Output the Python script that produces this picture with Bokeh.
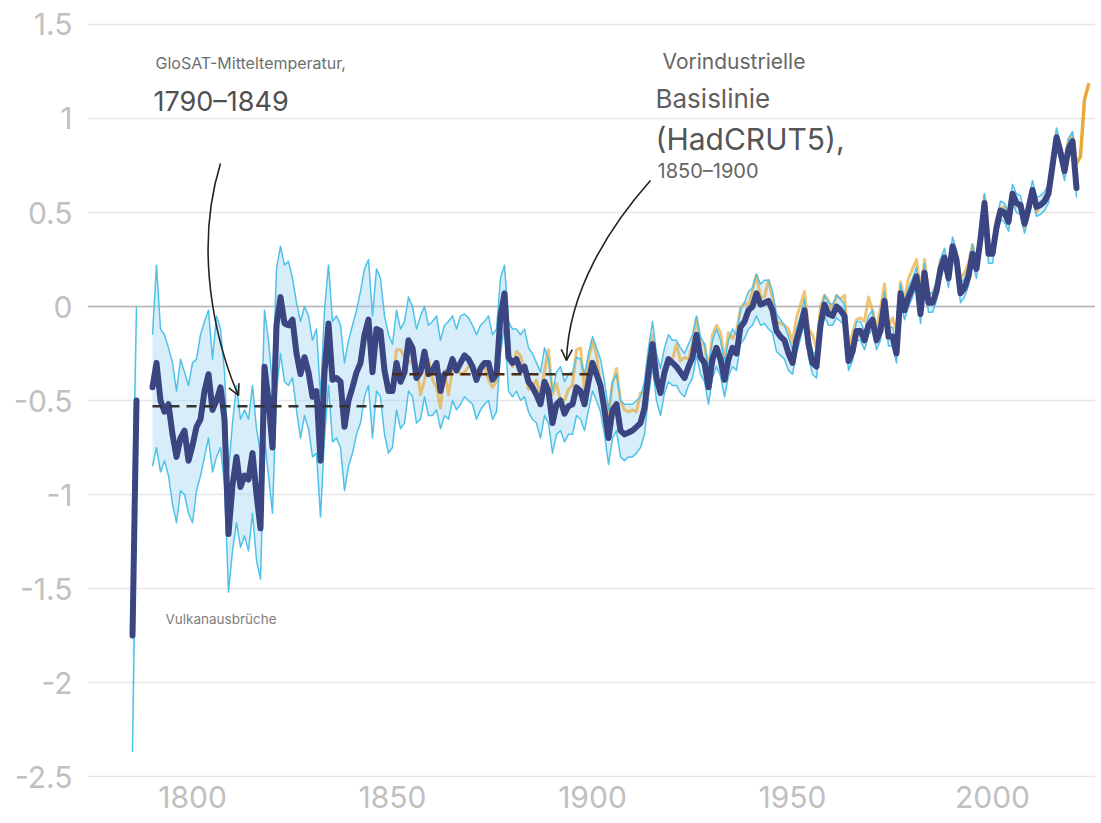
import numpy as np
from bokeh.plotting import figure
from bokeh.models import Range1d, FixedTicker, Span, Arrow, OpenHead, Label, CustomJSTickFormatter
from bokeh.embed import file_html
from bokeh.resources import INLINE

nan = float("nan")

# ---------------- data ----------------
glosat_years = list(range(1785, 2022))
glosat_mean = [
    -1.75, -0.50, nan, nan, nan,
    -0.43, -0.30, -0.50, -0.56, -0.52, -0.68, -0.80, -0.70, -0.66, -0.82,
    -0.74, -0.64, -0.60, -0.45, -0.36, -0.55, -0.50, -0.43, -0.60, -1.21,
    -0.95, -0.80, -0.96, -0.90, -0.92, -0.78, -1.00, -1.18, -0.32, -0.50,
    -0.75, -0.10, 0.05, -0.09, -0.10, -0.07, -0.25, -0.36, -0.27, -0.35,
    -0.48, -0.45, -0.82, -0.35, -0.09, -0.39, -0.38, -0.40, -0.64, -0.50,
    -0.43, -0.35, -0.30, -0.15, -0.07, -0.35, -0.12, -0.13, -0.34, -0.45,
    -0.45, -0.30, -0.40, -0.35, -0.18, -0.22, -0.38, -0.35, -0.24, -0.36,
    -0.34, -0.30, -0.45, -0.36, -0.35, -0.28, -0.34, -0.30, -0.26, -0.28,
    -0.32, -0.39, -0.33, -0.30, -0.30, -0.39, -0.36, -0.05, 0.07, -0.27,
    -0.30, -0.28, -0.34, -0.32, -0.40, -0.43, -0.47, -0.52, -0.40, -0.45,
    -0.62, -0.52, -0.50, -0.57, -0.53, -0.52, -0.43, -0.45, -0.52, -0.40,
    -0.30, -0.36, -0.42, -0.55, -0.70, -0.55, -0.52, -0.66, -0.68, -0.67,
    -0.66, -0.64, -0.62, -0.54, -0.35, -0.20, -0.38, -0.46, -0.35, -0.28,
    -0.30, -0.32, -0.35, -0.38, -0.32, -0.27, -0.15, -0.27, -0.30, -0.43,
    -0.28, -0.22, -0.28, -0.39, -0.28, -0.22, -0.25, -0.11, -0.08, -0.02,
    0.00, 0.07, 0.01, 0.02, 0.03, -0.02, -0.13, -0.16, -0.18, -0.25,
    -0.30, -0.18, -0.11, -0.02, -0.20, -0.30, -0.32, -0.10, 0.01, -0.04,
    -0.05, 0.00, -0.02, -0.05, -0.29, -0.24, -0.13, -0.13, -0.18, -0.10,
    -0.07, -0.18, -0.13, 0.03, -0.16, -0.16, -0.25, 0.07, -0.02, 0.05,
    0.10, 0.16, -0.04, 0.18, 0.02, 0.02, 0.08, 0.20, 0.26, 0.15,
    0.32, 0.25, 0.07, 0.10, 0.16, 0.28, 0.20, 0.36, 0.55, 0.28,
    0.28, 0.42, 0.51, 0.50, 0.45, 0.60, 0.55, 0.54, 0.44, 0.52,
    0.62, 0.53, 0.54, 0.56, 0.60, 0.75, 0.90, 0.82, 0.72, 0.84,
    0.88, 0.63,
]
glosat_hi = [
    -1.10, 0.00, nan, nan, nan,
    -0.15, 0.22, -0.12, -0.15, -0.22, -0.30, -0.45, -0.28, -0.35, -0.42,
    -0.30, -0.28, -0.15, -0.08, -0.02, -0.28, -0.05, -0.12, -0.35, -0.88,
    -0.62, -0.42, -0.60, -0.55, -0.60, -0.42, -0.65, -0.78, -0.02, -0.18,
    -0.42, 0.20, 0.32, 0.22, 0.24, 0.15, 0.02, -0.08, 0.00, -0.05,
    -0.18, -0.12, -0.48, -0.02, 0.22, -0.08, -0.05, -0.10, -0.30, -0.18,
    -0.10, -0.02, 0.08, 0.20, 0.25, -0.05, 0.20, 0.15, -0.05, -0.15,
    -0.20, -0.02, -0.12, -0.08, 0.05, 0.00, -0.12, -0.05, 0.00, -0.10,
    -0.08, -0.05, -0.18, -0.10, -0.08, -0.05, -0.12, -0.05, -0.04, -0.06,
    -0.10, -0.15, -0.10, -0.08, -0.05, -0.15, -0.12, 0.15, 0.22, -0.08,
    -0.12, -0.12, -0.15, -0.12, -0.22, -0.25, -0.30, -0.35, -0.22, -0.28,
    -0.45, -0.35, -0.32, -0.40, -0.36, -0.35, -0.27, -0.28, -0.36, -0.25,
    -0.16, -0.22, -0.28, -0.40, -0.55, -0.40, -0.36, -0.50, -0.52, -0.52,
    -0.52, -0.50, -0.48, -0.40, -0.22, -0.08, -0.25, -0.33, -0.22, -0.15,
    -0.18, -0.18, -0.22, -0.25, -0.20, -0.15, -0.05, -0.16, -0.20, -0.32,
    -0.18, -0.12, -0.18, -0.29, -0.18, -0.12, -0.15, -0.02, 0.02, 0.08,
    0.10, 0.17, 0.12, 0.14, 0.14, 0.08, -0.04, -0.07, -0.10, -0.16,
    -0.23, -0.12, -0.05, 0.04, -0.14, -0.24, -0.26, -0.04, 0.06, 0.02,
    0.01, 0.06, 0.04, 0.01, -0.24, -0.19, -0.08, -0.08, -0.13, -0.05,
    -0.02, -0.13, -0.08, 0.08, -0.11, -0.11, -0.20, 0.12, 0.03, 0.10,
    0.15, 0.21, 0.01, 0.23, 0.07, 0.07, 0.13, 0.25, 0.31, 0.20,
    0.37, 0.30, 0.12, 0.15, 0.21, 0.33, 0.25, 0.41, 0.60, 0.33,
    0.33, 0.47, 0.56, 0.55, 0.50, 0.65, 0.60, 0.59, 0.49, 0.57,
    0.67, 0.58, 0.59, 0.61, 0.65, 0.80, 0.95, 0.87, 0.77, 0.89,
    0.93, 0.68,
]
glosat_lo = [
    -2.37, -0.95, nan, nan, nan,
    -0.85, -0.75, -0.88, -0.82, -0.90, -1.05, -1.15, -0.98, -1.00, -1.10,
    -1.15, -0.98, -0.90, -0.80, -0.70, -0.88, -0.80, -0.75, -0.95, -1.52,
    -1.30, -1.15, -1.28, -1.22, -1.30, -1.10, -1.35, -1.45, -0.70, -0.90,
    -1.10, -0.45, -0.25, -0.40, -0.42, -0.38, -0.55, -0.70, -0.58, -0.65,
    -0.80, -0.78, -1.12, -0.70, -0.42, -0.72, -0.70, -0.75, -0.98, -0.85,
    -0.78, -0.68, -0.62, -0.48, -0.42, -0.70, -0.45, -0.48, -0.68, -0.78,
    -0.75, -0.55, -0.65, -0.62, -0.45, -0.48, -0.62, -0.60, -0.48, -0.58,
    -0.58, -0.55, -0.65, -0.58, -0.60, -0.50, -0.55, -0.52, -0.48, -0.50,
    -0.52, -0.60, -0.55, -0.52, -0.50, -0.60, -0.56, -0.25, -0.10, -0.45,
    -0.48, -0.45, -0.50, -0.48, -0.56, -0.60, -0.62, -0.70, -0.58, -0.62,
    -0.78, -0.68, -0.66, -0.72, -0.68, -0.68, -0.58, -0.60, -0.66, -0.55,
    -0.45, -0.50, -0.56, -0.68, -0.84, -0.70, -0.66, -0.80, -0.82, -0.80,
    -0.80, -0.78, -0.75, -0.68, -0.48, -0.32, -0.50, -0.58, -0.46, -0.40,
    -0.42, -0.42, -0.46, -0.48, -0.42, -0.38, -0.26, -0.36, -0.40, -0.52,
    -0.38, -0.32, -0.37, -0.48, -0.37, -0.32, -0.34, -0.20, -0.17, -0.12,
    -0.10, -0.05, -0.10, -0.09, -0.12, -0.14, -0.24, -0.26, -0.28, -0.34,
    -0.36, -0.25, -0.17, -0.08, -0.27, -0.36, -0.38, -0.16, -0.05, -0.10,
    -0.10, -0.06, -0.08, -0.10, -0.34, -0.29, -0.18, -0.18, -0.23, -0.15,
    -0.12, -0.23, -0.18, -0.02, -0.21, -0.21, -0.30, 0.02, -0.07, 0.00,
    0.05, 0.11, -0.09, 0.13, -0.03, -0.03, 0.03, 0.15, 0.21, 0.10,
    0.27, 0.20, 0.02, 0.05, 0.11, 0.23, 0.15, 0.31, 0.50, 0.23,
    0.23, 0.37, 0.46, 0.45, 0.40, 0.55, 0.50, 0.49, 0.39, 0.47,
    0.57, 0.48, 0.49, 0.51, 0.55, 0.70, 0.85, 0.77, 0.67, 0.79,
    0.83, 0.58,
]

hadcrut_years = list(range(1850, 2025))
hadcrut_mean = [
    -0.42, -0.23, -0.23, -0.27, -0.29, -0.30, -0.32, -0.47, -0.39, -0.28,
    -0.39, -0.43, -0.54, -0.34, -0.47, -0.33, -0.34, -0.36, -0.35, -0.32,
    -0.32, -0.39, -0.31, -0.32, -0.39, -0.43, -0.40, -0.10, 0.05, -0.25,
    -0.32, -0.24, -0.26, -0.34, -0.44, -0.43, -0.39, -0.48, -0.34, -0.23,
    -0.47, -0.41, -0.50, -0.50, -0.44, -0.42, -0.23, -0.22, -0.45, -0.28,
    -0.18, -0.26, -0.41, -0.52, -0.59, -0.41, -0.33, -0.50, -0.55, -0.56,
    -0.55, -0.56, -0.46, -0.46, -0.25, -0.15, -0.37, -0.47, -0.34, -0.29,
    -0.28, -0.20, -0.29, -0.27, -0.28, -0.20, -0.06, -0.20, -0.20, -0.34,
    -0.15, -0.10, -0.14, -0.28, -0.14, -0.17, -0.13, -0.01, 0.02, 0.00,
    0.09, 0.17, 0.05, 0.05, 0.14, 0.05, -0.08, -0.09, -0.10, -0.12,
    -0.19, -0.06, 0.01, 0.08, -0.12, -0.15, -0.22, 0.00, 0.06, 0.03,
    -0.02, 0.06, 0.04, 0.06, -0.22, -0.14, -0.07, -0.06, -0.08, 0.05,
    -0.02, -0.12, -0.01, 0.12, -0.11, -0.06, -0.13, 0.13, 0.04, 0.15,
    0.20, 0.25, 0.09, 0.25, 0.07, 0.07, 0.12, 0.25, 0.26, 0.18,
    0.32, 0.29, 0.15, 0.18, 0.23, 0.33, 0.20, 0.39, 0.59, 0.32,
    0.30, 0.47, 0.52, 0.53, 0.46, 0.58, 0.53, 0.53, 0.41, 0.52,
    0.62, 0.50, 0.54, 0.58, 0.62, 0.76, 0.92, 0.85, 0.76, 0.89,
    0.92, 0.76, 0.80, 1.10, 1.18,
]

glosat_base_years = [1790, 1849]
glosat_base_value = -0.53
hadcrut_base_years = [1850, 1900]
hadcrut_base_value = -0.36

y_ticks = [-2.5, -2.0, -1.5, -1.0, -0.5, 0.0, 0.5, 1.0, 1.5]
x_ticks = [1800, 1850, 1900, 1950, 2000]

# ---------------- figure ----------------
NAVY = "#3b4582"
CYAN = "#4fc2e8"
BANDFILL = "#a6d6f3"
ORANGE = "#e9a93a"
AXIS_FONT = "Inter"
ANN_FONT = "Inter"

p = figure(width=1095, height=815, output_backend="svg", toolbar_location=None,
           x_range=Range1d(1773.75, 2025.75), y_range=Range1d(-2.5053, 1.5851),
           min_border_left=87, min_border_right=0, min_border_top=8, min_border_bottom=38)
p.outline_line_color = None
p.background_fill_color = "white"
p.border_fill_color = "white"

p.xgrid.grid_line_color = None
p.ygrid.ticker = FixedTicker(ticks=y_ticks)
p.ygrid.grid_line_color = "#e6e6e6"
p.ygrid.grid_line_width = 1.6

for ax in (p.xaxis[0], p.yaxis[0]):
    ax.axis_line_color = None
    ax.major_tick_line_color = None
    ax.minor_tick_line_color = None
    ax.major_tick_out = 0
    ax.major_tick_in = 0
    ax.major_label_text_color = "#c0c0c0"
    ax.major_label_text_font = AXIS_FONT
    ax.major_label_text_font_size = "30px"
p.yaxis.ticker = FixedTicker(ticks=y_ticks)
p.yaxis.formatter = CustomJSTickFormatter(code="return String(tick);")
p.yaxis.major_label_standoff = 15
p.xaxis.ticker = FixedTicker(ticks=x_ticks)
p.xaxis.major_label_standoff = 8

zero = Span(location=0, dimension="width", line_color="#b5b5b5", line_width=1.6, level="underlay")
p.add_layout(zero)

# ---------------- series ----------------
yrs = np.array(glosat_years, dtype=float)
gm = np.array(glosat_mean, dtype=float)
gh = np.array(glosat_hi, dtype=float)
gl = np.array(glosat_lo, dtype=float)
valid = ~np.isnan(gm)
segments = []
start = None
for i, ok in enumerate(valid):
    if ok and start is None:
        start = i
    if (not ok or i == len(valid) - 1) and start is not None:
        end = i + 1 if ok else i
        segments.append((start, end))
        start = None

for a, b in segments:
    p.varea(x=yrs[a:b], y1=gl[a:b], y2=gh[a:b], fill_color=BANDFILL, fill_alpha=0.45)

# HadCRUT5: muted where it runs with GloSAT, full colour for the last years
hy = np.array(hadcrut_years)
hm = np.array(hadcrut_mean)
overlap = hy <= glosat_years[-1]
tail = hy >= glosat_years[-1]
p.line(hy[overlap], hm[overlap], line_color=ORANGE, line_alpha=0.7, line_width=3.0, line_join="round")
p.line(hy[tail], hm[tail], line_color=ORANGE, line_width=3.5, line_join="round", line_cap="round")

for a, b in segments:
    p.line(yrs[a:b], gh[a:b], line_color=CYAN, line_width=1.5, line_join="round")
    p.line(yrs[a:b], gl[a:b], line_color=CYAN, line_width=1.5, line_join="round")

p.line(glosat_years, glosat_mean, line_color=NAVY, line_width=6, line_join="round", line_cap="round")

p.line(glosat_base_years, [glosat_base_value] * 2, line_color="#333333", line_width=2.5, line_dash="10 7")
p.line(hadcrut_base_years, [hadcrut_base_value] * 2, line_color="#4a2a12", line_width=2.5, line_dash="10 7")

# ---------------- annotations ----------------
def lab(x, y, text, size, color):
    p.add_layout(Label(x=x, y=y, text=text, text_font=ANN_FONT, text_font_size=size,
                       text_color=color, text_baseline="middle", text_align="left"))

lab(1790.75, 1.2926, "GloSAT-Mitteltemperatur,", "16px", "#707070")
lab(1790.25, 1.0904, "1790–1849", "27px", "#505050")
lab(1917.5, 1.3032, "Vorindustrielle", "21px", "#666666")
lab(1915.75, 1.1064, "Basislinie", "26px", "#606060")
lab(1915.75, 0.8936, "(HadCRUT5),", "30px", "#555555")
lab(1916.25, 0.7234, "1850–1900", "20px", "#666666")
lab(1793.25, -1.6596, "Vulkanausbrüche", "13.5px", "#808080")

p.bezier(x0=[1807.0, 1914.5], y0=[0.7606, 0.6702],
         x1=[1811.5, 1893.5], y1=[-0.4734, -0.2872],
         cx0=[1799.5, 1904.5], cy0=[0.2447, 0.4309],
         cx1=[1807.5, 1894.0], cy1=[-0.2872, 0.0851],
         line_color="#222222", line_width=1.6)
p.add_layout(Arrow(end=OpenHead(size=11, line_color="#222222", line_width=1.6),
                   x_start=1807.5, y_start=-0.2872, x_end=1811.5, y_end=-0.4734, line_alpha=0))
p.add_layout(Arrow(end=OpenHead(size=11, line_color="#222222", line_width=1.6),
                   x_start=1894.0, y_start=0.0851, x_end=1893.5, y_end=-0.2872, line_alpha=0))

open("out.html", "w").write(file_html(p, INLINE))
